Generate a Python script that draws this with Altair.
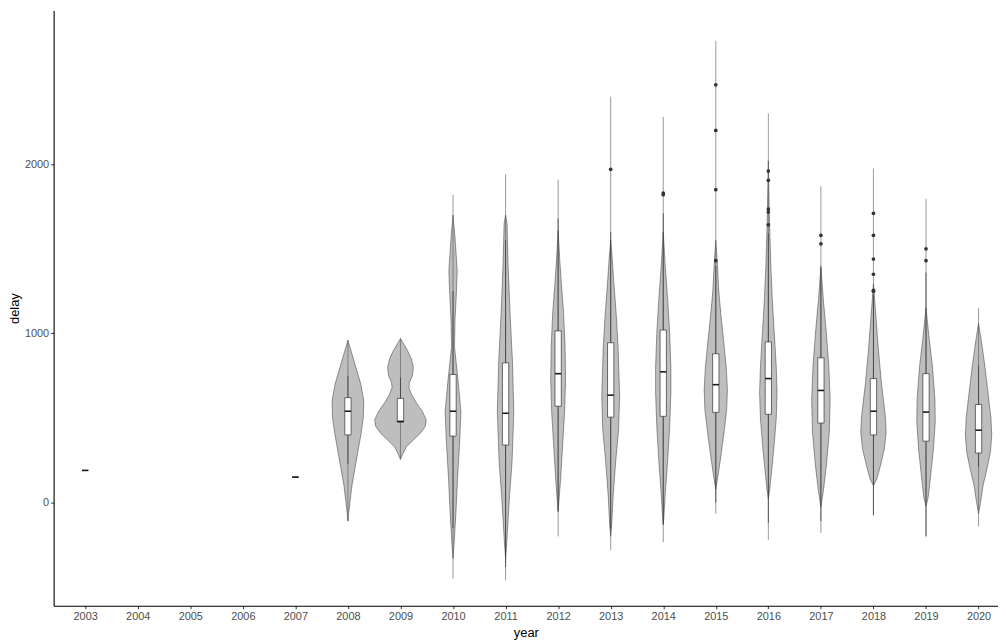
import altair as alt
import pandas as pd

YEARS = list(range(2003, 2021))

# Violin profiles: delay values and relative half-widths (density)
VIOLIN_DELAY = {
    2008: [960, 900, 800, 700, 600, 500, 400, 300, 200, 100, 0, -60, -110],
    2009: [970, 940, 900, 850, 800, 750, 710, 680, 640, 590, 540, 490, 450, 410, 370, 330, 290, 255],
    2010: [1700, 1568, 1372, 1255, 1079, 921, 727, 534, 336, 141, -53, -252, -330],
    2011: [1700, 1648, 1413, 1120, 826, 534, 240, 41, -153, -252, -330],
    2012: [1607, 1450, 1314, 1120, 921, 727, 534, 336, 141, -55],
    2013: [1550, 1449, 1314, 1120, 921, 727, 628, 434, 240, 41, -153, -200],
    2014: [1600, 1400, 1200, 1000, 800, 650, 450, 250, 50, -100, -130],
    2015: [1550, 1420, 1250, 1120, 950, 800, 670, 550, 400, 250, 150, 80],
    2016: [2020, 1700, 1400, 1200, 1000, 800, 650, 500, 350, 200, 80, 25],
    2017: [1390, 1196, 1003, 804, 610, 416, 217, 70, -25],
    2018: [1295, 1097, 903, 710, 510, 416, 317, 217, 141, 100],
    2019: [1150, 980, 804, 610, 475, 317, 123, 23, -20],
    2020: [1060, 950, 800, 650, 500, 400, 300, 200, 100, 0, -65],
}
VIOLIN_DENS = {
    2008: [0, 3, 8, 13, 16, 15.5, 13, 10, 7, 4, 2, 0.8, 0],
    2009: [0, 3, 7, 11, 13, 12, 9, 8.5, 11, 16, 22, 26, 25, 20, 13, 6, 2.5, 0],
    2010: [0, 2, 4.2, 3.5, 2, 1.5, 5, 8, 6.5, 4.5, 3, 1, 0],
    2011: [0, 1.5, 2.5, 4.5, 7, 8.3, 6.5, 4, 2, 1, 0],
    2012: [0, 1.5, 3, 5.5, 7, 7.5, 6.5, 4.5, 2.5, 0],
    2013: [0, 1.5, 3, 5.5, 7.5, 8.5, 9, 8, 5, 2.5, 0.8, 0],
    2014: [0, 2, 4.5, 6.5, 7.7, 7.7, 6.5, 4.5, 2, 0.5, 0],
    2015: [0, 1.5, 3, 5, 8, 10.5, 11.7, 11, 8, 4.5, 2, 0],
    2016: [0, 1, 2.5, 4, 6, 8, 8.8, 8, 6, 3.5, 1.5, 0],
    2017: [0, 2.5, 5.5, 8, 9.3, 8.5, 5.5, 2.5, 0],
    2018: [0, 2.5, 5, 8, 12, 12.8, 11, 7, 3.5, 0],
    2019: [0, 3, 6.5, 9, 9.3, 7.5, 4, 2, 0],
    2020: [0, 3, 6.5, 9.5, 12.5, 13.3, 12, 8.5, 4.5, 2, 0],
}

# Box plot statistics per year
BOX_YEAR = [2003, 2007, 2008, 2009, 2010, 2011, 2012, 2013, 2014, 2015, 2016, 2017, 2018, 2019, 2020]
Q1 = [190, 150, 400, 475, 393, 340, 570, 505, 510, 533, 522, 470, 400, 363, 293]
MEDIAN = [190, 150, 540, 480, 540, 528, 762, 635, 773, 697, 733, 663, 540, 535, 428]
Q3 = [190, 150, 620, 616, 757, 826, 1015, 945, 1020, 880, 950, 856, 733, 762, 580]
WHISK_LO = [190, 150, 230, 475, -150, -380, -50, -155, -130, 0, -120, -110, -75, -200, 211]
WHISK_HI = [190, 150, 750, 740, 1250, 1550, 1680, 1600, 1710, 1400, 1590, 1400, 1230, 1360, 810]
LINE_LO = [190, 150, -110, 255, -450, -460, -200, -280, -235, -65, -220, -180, -75, -200, -140]
LINE_HI = [190, 150, 960, 970, 1820, 1940, 1910, 2400, 2280, 2730, 2300, 1870, 1975, 1795, 1150]

# Outliers
OUT_YEAR = [2013, 2014, 2014, 2015, 2015, 2015, 2015, 2016, 2016, 2016, 2016, 2016,
            2017, 2017, 2018, 2018, 2018, 2018, 2018, 2018, 2019, 2019]
OUT_DELAY = [1970, 1830, 1820, 2470, 2200, 1850, 1430, 1960, 1905, 1735, 1718, 1642,
             1580, 1530, 1710, 1580, 1440, 1350, 1255, 1250, 1500, 1430]

vrows = []
for y in VIOLIN_DELAY:
    for d, w in zip(VIOLIN_DELAY[y], VIOLIN_DENS[y]):
        vrows.append({"year": y, "grp": str(y), "delay": d, "dens": w})
vdf = pd.DataFrame(vrows)

bdf = pd.DataFrame({"year": BOX_YEAR, "q1": Q1, "med": MEDIAN, "q3": Q3,
                    "wlo": WHISK_LO, "whi": WHISK_HI, "lo": LINE_LO, "hi": LINE_HI})
odf = pd.DataFrame({"year": OUT_YEAR, "delay": OUT_DELAY})

xscale = alt.Scale(domain=[2002.40, 2020.37], nice=False, zero=False)
yscale = alt.Scale(domain=[-610, 2909], nice=False, zero=False)

xaxis = alt.Axis(values=YEARS, format="d", title="year", titleY=27, titleBaseline="middle")
yaxis = alt.Axis(values=[0, 1000, 2000], format="d", title="delay", titleX=-39, titleY=300,
                 titleBaseline="middle", titleAngle=-90)

violin = alt.Chart(vdf).transform_calculate(
    xa="datum.year - datum.dens / 53", xb="datum.year + datum.dens / 53"
).mark_area(orient="horizontal", fill="#BEBEBE", stroke="#333333", strokeWidth=0.5).encode(
    y=alt.Y("delay:Q", scale=yscale, axis=yaxis),
    x=alt.X("xa:Q", scale=xscale, axis=xaxis, stack=None),
    x2="xb:Q",
    detail="grp:N",
)

base = alt.Chart(bdf)
thin = base.mark_rule(color="#555555", strokeWidth=0.6).encode(
    x=alt.X("year:Q", scale=xscale), y=alt.Y("lo:Q", scale=yscale), y2="hi:Q")
whisk = base.mark_rule(color="#333333", strokeWidth=0.7).encode(
    x=alt.X("year:Q", scale=xscale), y=alt.Y("wlo:Q", scale=yscale), y2="whi:Q")
box = base.transform_calculate(
    xa="datum.year - 0.06", xb="datum.year + 0.06"
).mark_rect(fill="white", stroke="#333333", strokeWidth=0.7).encode(
    x=alt.X("xa:Q", scale=xscale), x2="xb:Q", y=alt.Y("q1:Q", scale=yscale), y2="q3:Q")
med = base.transform_calculate(
    xa="datum.year - 0.06", xb="datum.year + 0.06"
).mark_rule(color="#1a1a1a", strokeWidth=1.6).encode(
    x=alt.X("xa:Q", scale=xscale), x2="xb:Q", y=alt.Y("med:Q", scale=yscale))
outl = alt.Chart(odf).mark_circle(size=14, color="#333333", opacity=1).encode(
    x=alt.X("year:Q", scale=xscale), y=alt.Y("delay:Q", scale=yscale))

chart = alt.layer(violin, thin, whisk, box, med, outl).properties(
    width=952, height=600, autosize=alt.AutoSizeParams(type="none"),
    padding={"left": 46, "top": 0, "right": 0, "bottom": 36},
).configure_view(stroke=None).configure_axis(
    grid=False, domainColor="#000000", domainWidth=1.1, tickColor="#333333", tickSize=3,
    labelColor="#4D4D4D", labelFontSize=11, labelFont="Liberation Sans", labelPadding=2,
    titleFont="Liberation Sans", titleFontSize=13, titleFontWeight="normal", titleColor="#000000",
)

chart.save("out.html", embed_options={"renderer": "svg", "actions": False})
